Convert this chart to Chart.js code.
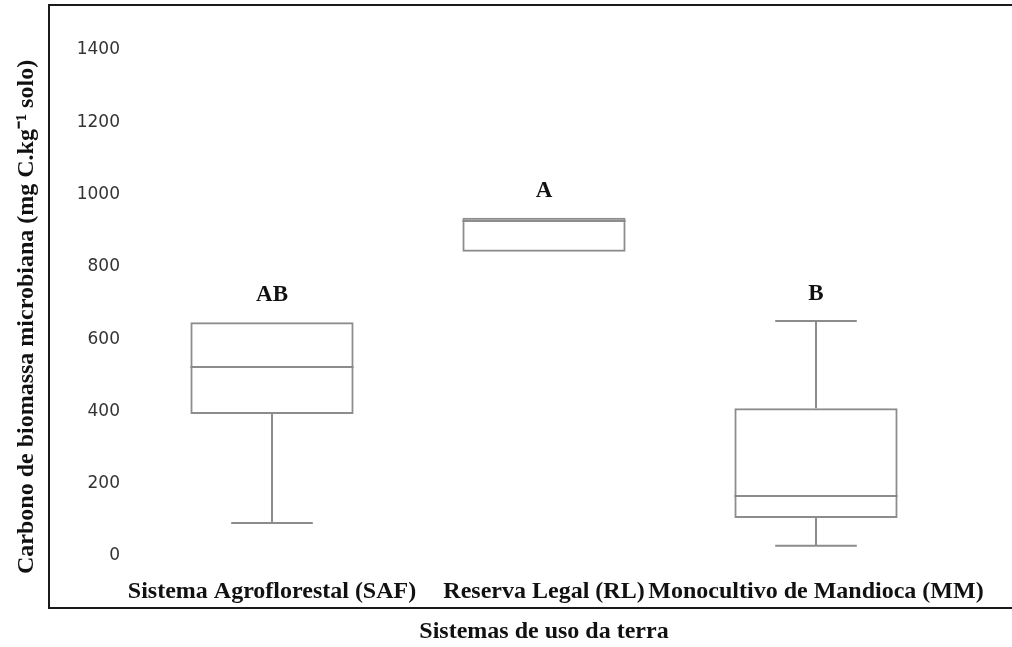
<!DOCTYPE html>
<html>
<head>
<meta charset="utf-8">
<script src="https://cdn.jsdelivr.net/npm/chart.js@4"></script>
<style>
  html, body { margin: 0; padding: 0; background: #fff; }
  #wrap { width: 1012px; height: 647px; }
</style>
</head>
<body>
<div id="wrap"><canvas id="boxChart" width="1012" height="647"></canvas></div>
<script>
// Box plot: carbono de biomassa microbiana por sistema de uso da terra

const categories = ['Sistema Agroflorestal (SAF)', 'Reserva Legal (RL)', 'Monocultivo de Mandioca (MM)'];
const minValues = [91, 842, 28];
const q1Values = [393, 842, 105];
const medianValues = [523, 927, 166];
const q3Values = [647, 936, 409];
const maxValues = [647, 936, 650];
const groupLetters = ['AB', 'A', 'B'];
const yTicks = [0, 200, 400, 600, 800, 1000, 1200, 1400];

const serifBold = { family: 'Liberation Serif', weight: 'bold', size: 24, lineHeight: 1 };
const boxColor = '#8c8c8c';

// white page + black frame around the plot
const framePlugin = {
    id: 'frame',
    beforeDraw(chart) {
        const ctx = chart.ctx;
        ctx.save();
        ctx.fillStyle = '#fff';
        ctx.fillRect(0, 0, chart.width, chart.height);
        ctx.strokeStyle = '#1a1a1a';
        ctx.lineWidth = 2;
        ctx.strokeRect(49, 5, 1020, 603);
        ctx.restore();
    }
};

// medians, whiskers and significance letters, placed with the chart scales
const whiskerPlugin = {
    id: 'whiskers',
    afterDatasetsDraw(chart) {
        const ctx = chart.ctx;
        const y = chart.scales.y;
        const bars = chart.getDatasetMeta(0).data;
        ctx.save();
        ctx.strokeStyle = boxColor;
        ctx.lineWidth = 2;
        bars.forEach((bar, i) => {
            const half = bar.width / 2;
            const cap = bar.width / 4;
            const yMed = y.getPixelForValue(medianValues[i]);
            ctx.beginPath();
            ctx.moveTo(bar.x - half, yMed);
            ctx.lineTo(bar.x + half, yMed);
            if (maxValues[i] > q3Values[i]) {
                const yTop = y.getPixelForValue(maxValues[i]);
                ctx.moveTo(bar.x, y.getPixelForValue(q3Values[i]));
                ctx.lineTo(bar.x, yTop);
                ctx.moveTo(bar.x - cap, yTop);
                ctx.lineTo(bar.x + cap, yTop);
            }
            if (minValues[i] < q1Values[i]) {
                const yBot = y.getPixelForValue(minValues[i]);
                ctx.moveTo(bar.x, y.getPixelForValue(q1Values[i]));
                ctx.lineTo(bar.x, yBot);
                ctx.moveTo(bar.x - cap, yBot);
                ctx.lineTo(bar.x + cap, yBot);
            }
            ctx.stroke();

            ctx.fillStyle = '#111';
            ctx.font = 'bold 23px "Liberation Serif"';
            ctx.textAlign = 'center';
            ctx.textBaseline = 'alphabetic';
            ctx.fillText(groupLetters[i], bar.x, y.getPixelForValue(maxValues[i]) - 21);
        });
        ctx.restore();
    }
};

const ctx = document.getElementById('boxChart').getContext('2d');
new Chart(ctx, {
    type: 'bar',
    data: {
        labels: categories,
        datasets: [{
            label: 'IQR',
            data: categories.map((c, i) => [q1Values[i], q3Values[i]]),
            backgroundColor: 'rgba(255,255,255,0)',
            borderColor: boxColor,
            borderWidth: 2,
            borderSkipped: false,
            barPercentage: 0.6,
            categoryPercentage: 1.0
        }]
    },
    options: {
        responsive: false,
        animation: false,
        layout: { padding: { top: 4, right: 60, left: 0, bottom: 0 } },
        plugins: {
            legend: { display: false },
            tooltip: { enabled: false }
        },
        scales: {
            x: {
                grid: { display: false, drawTicks: false },
                border: { display: false },
                ticks: { color: '#111', font: serifBold, padding: 6, maxRotation: 0, autoSkip: false },
                title: {
                    display: true,
                    text: 'Sistemas de uso da terra',
                    color: '#111',
                    font: serifBold,
                    padding: { top: 0, bottom: 3 }
                },
                afterFit: s => { s.height = 73; }
            },
            y: {
                min: -50,
                max: 1466,
                afterBuildTicks: s => { s.ticks = yTicks.map(v => ({ value: v })); },
                grid: { display: false, drawTicks: false },
                border: { display: false },
                ticks: {
                    color: '#333',
                    font: { family: 'DejaVu Sans', size: 17 },
                    padding: 16,
                    callback: v => String(v)
                },
                title: {
                    display: true,
                    text: 'Carbono de biomassa microbiana (mg C.kg⁻¹ solo)',
                    align: 'start',
                    color: '#111',
                    font: serifBold,
                    padding: { top: 15, bottom: 0 }
                },
                afterFit: s => { s.width = 136; }
            }
        }
    },
    plugins: [framePlugin, whiskerPlugin]
});
</script>
</body>
</html>
